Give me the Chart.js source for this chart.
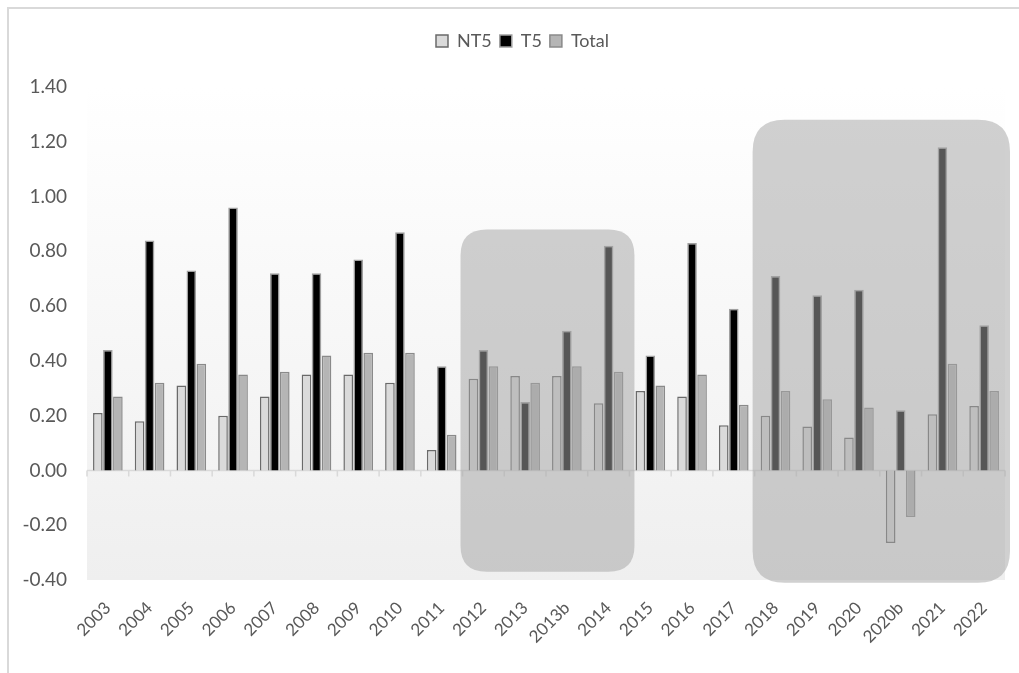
<!DOCTYPE html>
<html>
<head>
<meta charset="utf-8">
<script src="https://cdn.jsdelivr.net/npm/chart.js@4.4.1/dist/chart.umd.min.js"></script>
<style>
  html, body { margin: 0; padding: 0; background: #fff; overflow: hidden; }
  #wrap { position: relative; width: 1019px; height: 673px; }
  #frame { position: absolute; left: 7px; top: 7px; width: 2000px; height: 2000px;
           border-left: 2px solid #d9d9d9; border-top: 2px solid #d9d9d9; pointer-events: none; }
</style>
</head>
<body>
<div id="wrap">
  <canvas id="chart" width="1019" height="673"></canvas>
  <div id="frame"></div>
</div>
<script>
const years = ['2003', '2004', '2005', '2006', '2007', '2008', '2009', '2010', '2011', '2012', '2013',
  '2013b', '2014', '2015', '2016', '2017', '2018', '2019', '2020', '2020b', '2021', '2022'];
const nt5 = [0.21, 0.18, 0.31, 0.20, 0.27, 0.35, 0.35, 0.32, 0.075, 0.335, 0.345,
  0.345, 0.245, 0.29, 0.27, 0.165, 0.20, 0.16, 0.12, -0.265, 0.205, 0.235];
const t5 = [0.44, 0.84, 0.73, 0.96, 0.72, 0.72, 0.77, 0.87, 0.38, 0.44, 0.25,
  0.51, 0.82, 0.42, 0.83, 0.59, 0.71, 0.64, 0.66, 0.22, 1.18, 0.53];
const total = [0.27, 0.32, 0.39, 0.35, 0.36, 0.42, 0.43, 0.43, 0.13, 0.38, 0.32,
  0.38, 0.36, 0.31, 0.35, 0.24, 0.29, 0.26, 0.23, -0.17, 0.39, 0.29];

// shaded groups: first year, last year, top value, bottom value
const highlightFrom = ['2012', '2018'];
const highlightTo = ['2014', '2022'];
const highlightTop = [0.88, 1.28];
const highlightBottom = [-0.37, -0.41];

const textColor = '#595959';
const font = "Lato, 'Open Sans', sans-serif";

// leave room under the legend like the original, and nudge it right a bit
const legendSpace = {
  id: 'legendSpace',
  afterInit(chart) {
    const fit = chart.legend.fit;
    chart.legend.fit = function () {
      fit.call(this);
      this.height += 27;
    };
  },
  afterLayout(chart) {
    chart.legend.left += 20;
    chart.legend.right += 20;
  }
};

const plotBackground = {
  id: 'plotBackground',
  beforeDatasetsDraw(chart) {
    const { ctx, chartArea: a, scales } = chart;
    ctx.save();
    const g = ctx.createLinearGradient(0, a.top, 0, a.bottom);
    g.addColorStop(0, '#ffffff');
    g.addColorStop(1, '#efefef');
    ctx.fillStyle = g;
    ctx.fillRect(a.left, a.top, a.right - a.left, a.bottom - a.top);

    // zero line with category tick marks
    const y0 = scales.y.getPixelForValue(0);
    ctx.strokeStyle = '#d9d9d9';
    ctx.lineWidth = 1.5;
    ctx.beginPath();
    ctx.moveTo(a.left, y0);
    ctx.lineTo(a.right, y0);
    const step = (a.right - a.left) / years.length;
    for (let i = 0; i <= years.length; i++) {
      const x = a.left + i * step;
      ctx.moveTo(x, y0);
      ctx.lineTo(x, y0 + 6);
    }
    ctx.stroke();
    ctx.restore();
  }
};

function roundRect(ctx, x, y, w, h, r) {
  ctx.beginPath();
  ctx.moveTo(x + r, y);
  ctx.lineTo(x + w - r, y);
  ctx.quadraticCurveTo(x + w, y, x + w, y + r);
  ctx.lineTo(x + w, y + h - r);
  ctx.quadraticCurveTo(x + w, y + h, x + w - r, y + h);
  ctx.lineTo(x + r, y + h);
  ctx.quadraticCurveTo(x, y + h, x, y + h - r);
  ctx.lineTo(x, y + r);
  ctx.quadraticCurveTo(x, y, x + r, y);
  ctx.closePath();
}

const highlights = {
  id: 'highlights',
  afterDatasetsDraw(chart) {
    const { ctx, scales } = chart;
    const xs = scales.x, ys = scales.y;
    const step = xs.width / years.length;
    ctx.save();
    ctx.fillStyle = 'rgba(165,165,165,0.52)';
    for (let i = 0; i < highlightFrom.length; i++) {
      const x1 = xs.getPixelForValue(years.indexOf(highlightFrom[i])) - step / 2 - 2;
      const x2 = xs.getPixelForValue(years.indexOf(highlightTo[i])) + step / 2 + 5;
      const y1 = ys.getPixelForValue(highlightTop[i]);
      const y2 = ys.getPixelForValue(highlightBottom[i]);
      roundRect(ctx, x1, y1, x2 - x1, y2 - y1, i === 0 ? 26 : 32);
      ctx.fill();
    }
    ctx.restore();
  }
};

new Chart(document.getElementById('chart'), {
  type: 'bar',
  data: {
    labels: years,
    datasets: [
      { label: 'NT5', data: nt5, backgroundColor: '#dadada', borderColor: '#6a6a6a', borderWidth: 1.5 },
      { label: 'T5', data: t5, backgroundColor: '#000000', borderColor: '#a0a0a0', borderWidth: 1.5 },
      { label: 'Total', data: total, backgroundColor: '#b5b5b5', borderColor: '#8a8a8a', borderWidth: 1.5 }
    ]
  },
  options: {
    responsive: false,
    animation: false,
    devicePixelRatio: 1,
    datasets: { bar: { categoryPercentage: 0.72, barPercentage: 0.96 } },
    layout: { padding: { top: 24, right: 14, left: 0, bottom: 0 } },
    plugins: {
      legend: {
        position: 'top',
        labels: {
          color: textColor,
          font: { family: font, size: 18 },
          boxWidth: 12,
          boxHeight: 12,
          padding: 8
        }
      },
      tooltip: { enabled: false }
    },
    scales: {
      x: {
        grid: { display: false, drawTicks: false },
        border: { display: false },
        ticks: {
          color: textColor,
          font: { family: font, size: 17 },
          minRotation: 45,
          maxRotation: 45,
          autoSkip: false,
          padding: 18
        },
        afterFit(scale) { scale.height = 93; }
      },
      y: {
        min: -0.4,
        max: 1.4,
        grid: { display: false, drawTicks: false },
        border: { display: false },
        ticks: {
          stepSize: 0.2,
          color: textColor,
          font: { family: font, size: 19 },
          padding: 20,
          callback: v => (Math.round(v * 100) / 100).toFixed(2)
        },
        afterFit(scale) { scale.width = 87; }
      }
    }
  },
  plugins: [legendSpace, plotBackground, highlights]
});
</script>
</body>
</html>
